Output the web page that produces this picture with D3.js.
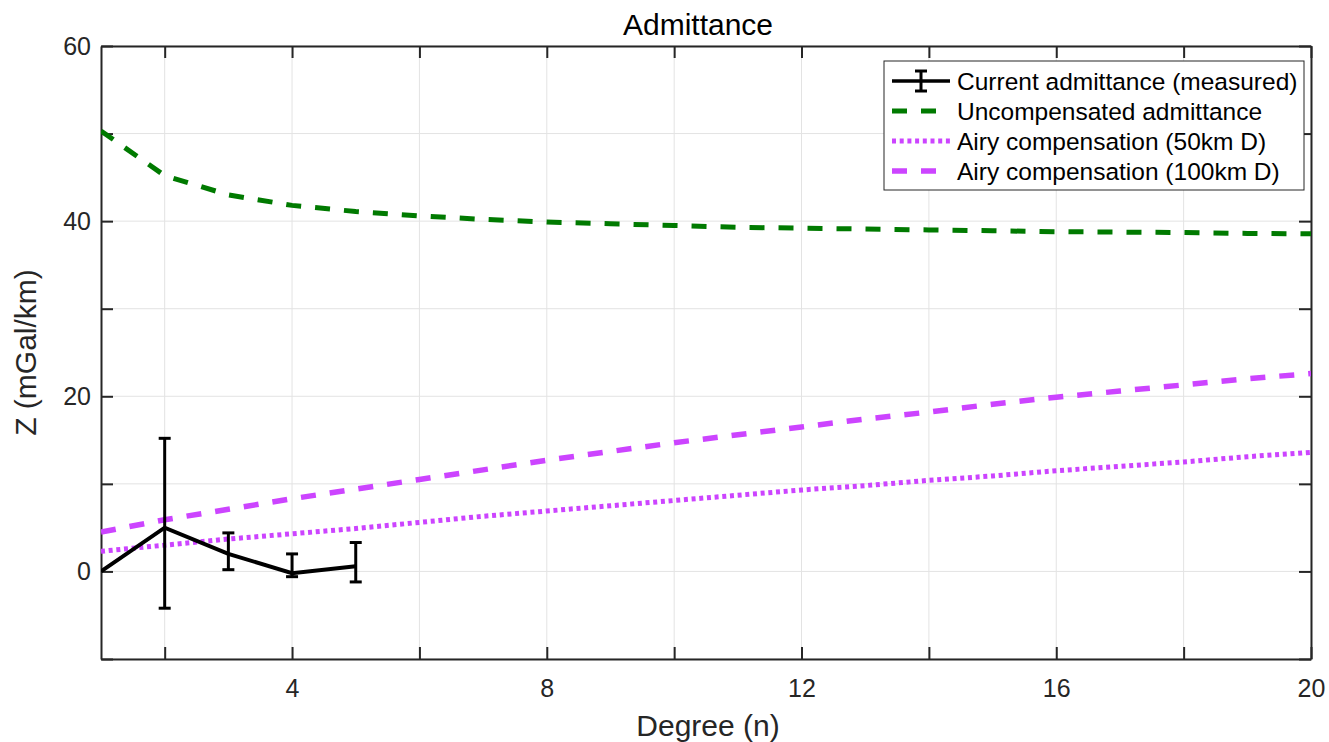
<!DOCTYPE html>
<html>
<head>
<meta charset="utf-8">
<script src="https://cdn.jsdelivr.net/npm/d3@7"></script>
<style>
  body { margin: 0; background: #fff; }
  svg { font-family: "Liberation Sans", Arial, sans-serif; }
</style>
</head>
<body>
<svg id="chart"></svg>
<script>
// degrees and curves
let degrees = [1, 2, 3, 4, 5, 6, 7, 8, 9, 10, 11, 12, 13, 14, 15, 16, 17, 18, 19, 20];
let uncompensated = [50.3, 45.2, 43.0, 41.8, 41.1, 40.6, 40.2, 39.9, 39.7, 39.5, 39.3, 39.2, 39.1, 39.0, 38.9, 38.8, 38.75, 38.7, 38.6, 38.55];
let airy50 = [2.3, 3.0, 3.7, 4.3, 4.9, 5.6, 6.3, 6.9, 7.5, 8.1, 8.7, 9.3, 9.8, 10.4, 10.9, 11.5, 12.0, 12.5, 13.1, 13.6];
let airy100 = [4.5, 5.9, 7.1, 8.3, 9.4, 10.5, 11.6, 12.7, 13.7, 14.7, 15.6, 16.5, 17.4, 18.2, 19.1, 19.9, 20.6, 21.3, 22.0, 22.6];

let measDeg = [1, 2, 3, 4, 5];
let measZ = [0, 5.0, 2.0, -0.2, 0.6];
let measLo = [0, -4.2, 0.2, -0.6, -1.2];
let measHi = [0, 15.2, 4.4, 2.0, 3.3];

let xTicks = [2, 4, 6, 8, 10, 12, 14, 16, 18, 20];
let xLabels = [4, 8, 12, 16, 20];
let yTicks = [-10, 0, 10, 20, 30, 40, 50, 60];
let yLabels = [0, 20, 40, 60];

let legendNames = ['Current admittance (measured)', 'Uncompensated admittance', 'Airy compensation (50km D)', 'Airy compensation (100km D)'];

let width = 1329, height = 742;
let margin = {top: 46, right: 18, bottom: 83, left: 101};
let w = width - margin.left - margin.right;
let h = height - margin.top - margin.bottom;

let axisColor = '#262626';
let green = '#007a00';
let magenta = '#cc44ff';

let svg = d3.select('#chart').attr('width', width).attr('height', height);
let g = svg.append('g').attr('transform', 'translate(' + margin.left + ',' + margin.top + ')');

let x = d3.scaleLinear().domain([1, 20]).range([0, w]);
let y = d3.scaleLinear().domain([-10, 60]).range([h, 0]);

svg.append('defs').append('clipPath').attr('id', 'clip')
    .append('rect').attr('width', w).attr('height', h);

// grid
g.append('g').selectAll('line').data(xTicks).enter().append('line')
    .attr('x1', d => x(d)).attr('x2', d => x(d)).attr('y1', 0).attr('y2', h)
    .attr('stroke', '#e3e3e3').attr('stroke-width', 1);
g.append('g').selectAll('line').data(yTicks).enter().append('line')
    .attr('x1', 0).attr('x2', w).attr('y1', d => y(d)).attr('y2', d => y(d))
    .attr('stroke', '#e3e3e3').attr('stroke-width', 1);

// axes with inward ticks
let fmtX = d => xLabels.indexOf(d) >= 0 ? d : '';
let fmtY = d => yLabels.indexOf(d) >= 0 ? d : '';
let tick = 12;

let xAxis = g.append('g').attr('transform', 'translate(0,' + h + ')')
    .call(d3.axisBottom(x).tickValues(xTicks).tickSize(-tick).tickSizeOuter(0).tickPadding(20).tickFormat(fmtX));
let xAxisTop = g.append('g')
    .call(d3.axisTop(x).tickValues(xTicks).tickSize(-tick).tickSizeOuter(0).tickFormat(''));
let yAxis = g.append('g')
    .call(d3.axisLeft(y).tickValues(yTicks).tickSize(-tick).tickSizeOuter(0).tickPadding(10).tickFormat(fmtY));
let yAxisRight = g.append('g').attr('transform', 'translate(' + w + ',0)')
    .call(d3.axisRight(y).tickValues(yTicks).tickSize(-tick).tickSizeOuter(0).tickFormat(''));

[xAxis, xAxisTop, yAxis, yAxisRight].forEach(function (a) {
    a.selectAll('.domain').attr('stroke', axisColor).attr('stroke-width', 2);
    a.selectAll('.tick line').attr('stroke', axisColor).attr('stroke-width', 2);
    a.selectAll('text').attr('fill', axisColor).style('font-size', '25px');
});

let plot = g.append('g').attr('clip-path', 'url(#clip)');

let line = d3.line().x(d => x(d[0])).y(d => y(d[1]));

plot.append('path').datum(degrees.map((d, i) => [d, uncompensated[i]]))
    .attr('d', line).attr('fill', 'none').attr('stroke', green)
    .attr('stroke-width', 5).attr('stroke-dasharray', '15,14');
plot.append('path').datum(degrees.map((d, i) => [d, airy50[i]]))
    .attr('d', line).attr('fill', 'none').attr('stroke', magenta)
    .attr('stroke-width', 5).attr('stroke-dasharray', '4,3.7');
plot.append('path').datum(degrees.map((d, i) => [d, airy100[i]]))
    .attr('d', line).attr('fill', 'none').attr('stroke', magenta)
    .attr('stroke-width', 5.5).attr('stroke-dasharray', '15,14');

// measured with error bars
plot.append('path').datum(measDeg.map((d, i) => [d, measZ[i]]))
    .attr('d', line).attr('fill', 'none').attr('stroke', '#000').attr('stroke-width', 4);

let eb = plot.append('g').selectAll('g').data(measDeg.map((d, i) => i).filter(i => measHi[i] !== measLo[i]))
    .enter().append('g').attr('stroke', '#000').attr('stroke-width', 3);
eb.append('line').attr('x1', i => x(measDeg[i])).attr('x2', i => x(measDeg[i]))
    .attr('y1', i => y(measLo[i])).attr('y2', i => y(measHi[i]));
eb.append('line').attr('x1', i => x(measDeg[i]) - 6).attr('x2', i => x(measDeg[i]) + 6)
    .attr('y1', i => y(measLo[i])).attr('y2', i => y(measLo[i]));
eb.append('line').attr('x1', i => x(measDeg[i]) - 6).attr('x2', i => x(measDeg[i]) + 6)
    .attr('y1', i => y(measHi[i])).attr('y2', i => y(measHi[i]));

// title and labels
svg.append('text').attr('x', margin.left + w / 2 - 8).attr('y', 35)
    .attr('text-anchor', 'middle').style('font-size', '30px').attr('fill', '#000').text('Admittance');
svg.append('text').attr('x', margin.left + w / 2 + 2).attr('y', 736)
    .attr('text-anchor', 'middle').style('font-size', '30px').attr('fill', axisColor).text('Degree (n)');
svg.append('text').attr('transform', 'translate(36,' + (margin.top + h / 2) + ') rotate(-90)')
    .attr('text-anchor', 'middle').style('font-size', '30px').attr('fill', axisColor).text('Z (mGal/km)');

// legend
let lg = svg.append('g').attr('transform', 'translate(884,61)');
lg.append('rect').attr('width', 420).attr('height', 129)
    .attr('fill', '#fff').attr('stroke', '#262626').attr('stroke-width', 1);
let rowY = [20, 50, 80, 110];
let styles = [
    {stroke: '#000', dash: null, sw: 3.5},
    {stroke: green, dash: '15,14', sw: 5},
    {stroke: magenta, dash: '4,3.7', sw: 5},
    {stroke: magenta, dash: '15,14', sw: 5.5}
];
let rows = lg.selectAll('.row').data(legendNames).enter().append('g')
    .attr('class', 'row').attr('transform', (d, i) => 'translate(0,' + rowY[i] + ')');
rows.append('line').attr('x1', 8).attr('x2', 66).attr('y1', 0).attr('y2', 0)
    .attr('stroke', (d, i) => styles[i].stroke)
    .attr('stroke-width', (d, i) => styles[i].sw)
    .attr('stroke-dasharray', (d, i) => styles[i].dash);
let errSym = lg.append('g').attr('stroke', '#000').attr('stroke-width', 3).attr('transform', 'translate(37,' + rowY[0] + ')');
errSym.append('line').attr('x1', 0).attr('x2', 0).attr('y1', -10).attr('y2', 10);
errSym.append('line').attr('x1', -6).attr('x2', 6).attr('y1', -10).attr('y2', -10);
errSym.append('line').attr('x1', -6).attr('x2', 6).attr('y1', 10).attr('y2', 10);
rows.append('text').attr('x', 73).attr('y', 0).attr('dy', '0.35em')
    .style('font-size', '24.5px').attr('fill', '#000').text(d => d);
</script>
</body>
</html>
